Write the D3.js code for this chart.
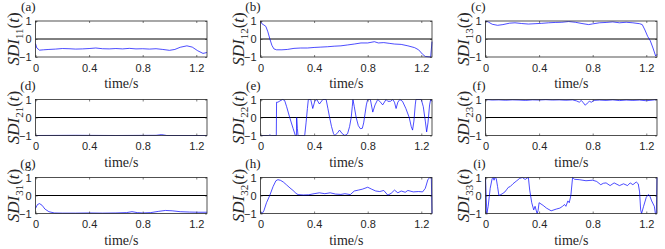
<!DOCTYPE html>
<html>
<head>
<meta charset="utf-8">
<script src="https://cdn.jsdelivr.net/npm/d3@7"></script>
<style>
  body { margin: 0; background: #fff; }
  svg { display: block; }
  .serif { font-family: "Liberation Serif", "Times New Roman", Times, serif; font-weight: 400; }
</style>
</head>
<body>
<div id="chart"></div>
<script>
// tick values and labels
const xTicks = [0, 0.4, 0.8, 1.2];
const yTicks = [-1, 0, 1];
const panelNames = ["(a)", "(b)", "(c)", "(d)", "(e)", "(f)", "(g)", "(h)", "(i)"];
const subscripts = ["11", "12", "13", "21", "22", "23", "31", "32", "33"];

// series: [time (s), SDI]
const sdi11 = [[0,-0.25],[0.01,-0.5],[0.03,-0.62],[0.06,-0.6],[0.1,-0.58],[0.15,-0.56],[0.2,-0.53],[0.25,-0.54],[0.3,-0.56],[0.35,-0.55],[0.4,-0.53],[0.45,-0.5],[0.5,-0.54],[0.55,-0.55],[0.6,-0.53],[0.65,-0.55],[0.7,-0.52],[0.75,-0.55],[0.8,-0.54],[0.85,-0.56],[0.9,-0.54],[0.95,-0.58],[1.0,-0.63],[1.04,-0.58],[1.08,-0.46],[1.13,-0.38],[1.17,-0.45],[1.21,-0.65],[1.25,-0.8],[1.28,-0.75]];
const sdi12 = [[0,1],[0.01,0.85],[0.025,0.78],[0.04,0.7],[0.055,0.4],[0.07,0],[0.085,-0.35],[0.1,-0.55],[0.12,-0.6],[0.16,-0.6],[0.2,-0.58],[0.25,-0.52],[0.3,-0.5],[0.35,-0.5],[0.4,-0.47],[0.45,-0.45],[0.5,-0.43],[0.55,-0.4],[0.6,-0.38],[0.65,-0.33],[0.7,-0.28],[0.75,-0.22],[0.8,-0.22],[0.85,-0.15],[0.88,-0.22],[0.92,-0.2],[0.96,-0.24],[1.0,-0.28],[1.05,-0.3],[1.1,-0.38],[1.15,-0.48],[1.18,-0.6],[1.21,-0.85],[1.23,-0.97],[1.27,-1],[1.28,-0.15]];
const sdi13 = [[0,1],[0.02,0.95],[0.05,0.82],[0.09,0.76],[0.13,0.8],[0.18,0.88],[0.22,0.9],[0.27,0.86],[0.32,0.83],[0.37,0.85],[0.42,0.87],[0.47,0.9],[0.52,0.92],[0.57,0.93],[0.62,0.97],[0.67,0.93],[0.72,0.86],[0.77,0.8],[0.8,0.84],[0.85,0.9],[0.9,0.92],[0.95,0.95],[1.0,0.9],[1.05,0.93],[1.1,0.9],[1.15,0.85],[1.17,0.8],[1.19,0.5],[1.21,0.15],[1.23,-0.1],[1.25,-0.5],[1.27,-0.95],[1.28,-0.85]];
const sdi21 = [[0,-1],[0.3,-0.99],[0.6,-1],[0.9,-0.99],[0.94,-0.95],[0.98,-1],[1.28,-1]];
const sdi22 = [[0,-1],[0.06,-1],[0.07,-0.97],[0.08,-1],[0.118,-1],[0.12,0.85],[0.13,0.85],[0.145,0.92],[0.165,1],[0.18,0.95],[0.195,0.6],[0.218,0],[0.243,-0.6],[0.26,-1],[0.268,-1],[0.27,0],[0.275,-0.6],[0.28,-1],[0.33,-1],[0.34,-0.3],[0.35,0.5],[0.357,1],[0.375,1],[0.39,0.5],[0.405,0.9],[0.42,1],[0.44,0.75],[0.465,1],[0.49,1],[0.503,0.5],[0.516,0],[0.53,-0.5],[0.545,-0.9],[0.555,-1],[0.575,-0.85],[0.59,-0.7],[0.61,-0.9],[0.63,-1],[0.65,-0.9],[0.665,-0.5],[0.677,0],[0.685,0.6],[0.69,1],[0.7,0.6],[0.714,0],[0.73,-0.45],[0.745,-0.62],[0.76,-0.6],[0.77,-0.3],[0.78,0.2],[0.79,0.7],[0.8,1],[0.82,1],[0.838,0.3],[0.855,0.7],[0.875,1],[0.89,0.9],[0.912,0.7],[0.937,1],[0.95,0.9],[0.97,0.9],[0.987,1],[1.0,0.85],[1.012,0.5],[1.025,0.85],[1.04,1],[1.06,0.9],[1.085,0.5],[1.11,0],[1.125,-0.5],[1.135,-0.7],[1.145,-0.2],[1.155,0.7],[1.16,1],[1.2,1],[1.215,0.6],[1.23,-0.2],[1.24,-0.8],[1.25,-0.3],[1.262,0.7],[1.27,1],[1.28,0.9]];
const sdi23 = [[0,1],[0.05,0.97],[0.1,0.98],[0.15,0.96],[0.2,0.98],[0.25,0.97],[0.3,0.95],[0.35,0.98],[0.4,0.97],[0.45,0.99],[0.5,0.97],[0.55,0.98],[0.6,0.96],[0.65,0.98],[0.68,0.92],[0.7,0.85],[0.715,0.95],[0.73,0.82],[0.745,0.68],[0.76,0.8],[0.775,0.9],[0.79,0.85],[0.81,0.95],[0.85,0.97],[0.9,0.95],[0.95,0.98],[1.0,0.94],[1.05,0.97],[1.1,0.95],[1.15,0.97],[1.2,0.93],[1.25,0.97],[1.28,1]];
const sdi31 = [[0,-0.72],[0.015,-0.5],[0.03,-0.45],[0.05,-0.55],[0.07,-0.75],[0.1,-0.9],[0.14,-0.97],[0.2,-0.98],[0.3,-0.98],[0.4,-0.97],[0.5,-0.98],[0.6,-0.97],[0.68,-0.95],[0.72,-0.9],[0.76,-0.95],[0.8,-0.97],[0.86,-0.95],[0.92,-0.88],[0.97,-0.83],[1.02,-0.85],[1.08,-0.9],[1.15,-0.92],[1.22,-0.93],[1.28,-0.93]];
const sdi32 = [[0,-0.9],[0.012,-1],[0.025,-0.85],[0.045,-0.4],[0.069,0],[0.094,0.5],[0.115,0.82],[0.13,0.88],[0.15,0.84],[0.17,0.75],[0.193,0.6],[0.22,0.42],[0.243,0.28],[0.265,0.12],[0.28,0.05],[0.32,0.03],[0.36,0.04],[0.4,0.1],[0.44,0.15],[0.48,0.1],[0.52,0.15],[0.56,0.08],[0.6,0.06],[0.63,0.1],[0.67,0.05],[0.7,0.25],[0.73,0.3],[0.76,0.35],[0.8,0.46],[0.83,0.35],[0.86,0.25],[0.89,0.22],[0.92,0.28],[0.95,0.02],[0.975,0.12],[1.0,0.3],[1.025,0.15],[1.05,0.25],[1.08,0.18],[1.1,0.28],[1.14,0.2],[1.18,0.22],[1.21,0.2],[1.23,0.4],[1.25,0.9],[1.265,1],[1.275,1],[1.28,-1]];
const sdi33 = [[0,1],[0.004,0.2],[0.01,-1],[0.02,-0.6],[0.035,0.4],[0.05,0.95],[0.057,1],[0.064,0.85],[0.07,1],[0.08,0.95],[0.09,0.5],[0.1,0],[0.115,0.05],[0.13,0.12],[0.145,0.2],[0.16,0.35],[0.17,0.45],[0.185,0.5],[0.205,0.65],[0.23,0.8],[0.255,0.95],[0.275,1],[0.29,0.92],[0.3,0.9],[0.31,0.97],[0.32,1],[0.33,0.3],[0.345,-0.4],[0.36,-0.8],[0.37,-0.6],[0.385,-1],[0.392,-0.85],[0.4,-0.4],[0.43,-0.55],[0.455,-0.7],[0.49,-0.85],[0.53,-0.75],[0.555,-0.7],[0.575,-0.6],[0.59,-0.5],[0.6,-0.6],[0.615,-0.3],[0.625,-0.4],[0.637,0],[0.65,1],[0.665,0.9],[0.7,0.88],[0.75,0.82],[0.8,0.85],[0.83,0.78],[0.86,0.6],[0.88,0.68],[0.9,0.7],[0.93,0.55],[0.96,0.7],[1.0,0.55],[1.03,0.65],[1.06,0.55],[1.08,0.7],[1.1,0.6],[1.125,0.75],[1.14,0.65],[1.15,0.2],[1.158,-0.8],[1.165,-1],[1.18,-0.6],[1.2,-0.1],[1.215,0.05],[1.225,0],[1.24,-0.3],[1.26,-0.6],[1.268,-1],[1.275,-1],[1.28,1]];

const series = [sdi11, sdi12, sdi13, sdi21, sdi22, sdi23, sdi31, sdi32, sdi33];

const width = 665, height = 249;
const colLeft = [35.5, 260.5, 485.5];
const rowTop = [21, 99.5, 177.5];
const pw = 171.5, ph = 36;
const axisColor = "#262626";

const svg = d3.select("#chart").append("svg")
  .attr("width", width)
  .attr("height", height);

series.forEach((data, i) => {
  const left = colLeft[i % 3];
  const top = rowTop[Math.floor(i / 3)];

  const x = d3.scaleLinear().domain([0, 1.28]).range([left, left + pw]);
  const y = d3.scaleLinear().domain([-1, 1]).range([top + ph, top]);

  const g = svg.append("g");

  // zero line
  g.append("line")
    .attr("x1", x(0)).attr("x2", x(1.28))
    .attr("y1", y(0)).attr("y2", y(0))
    .attr("stroke", "#000")
    .attr("stroke-width", 1);

  // the trace
  const line = d3.line().x((d) => x(d[0])).y((d) => y(d[1]));
  g.append("path")
    .datum(data)
    .attr("fill", "none")
    .attr("stroke", "#0000ff")
    .attr("stroke-width", 0.7)
    .attr("d", line);

  // axes with inward ticks
  const bottom = g.append("g")
    .attr("transform", `translate(0,${top + ph})`)
    .call(d3.axisBottom(x).tickValues(xTicks).tickSize(-2).tickPadding(7)
      .tickFormat((d) => (d === 0 ? "0" : d3.format(".1f")(d))));
  const topAx = g.append("g")
    .attr("transform", `translate(0,${top})`)
    .call(d3.axisTop(x).tickValues(xTicks).tickSize(-2).tickFormat(""));
  const leftAx = g.append("g")
    .attr("transform", `translate(${left},0)`)
    .call(d3.axisLeft(y).tickValues(yTicks).tickSize(-2).tickPadding(4)
      .tickFormat(d3.format("d")));
  const rightAx = g.append("g")
    .attr("transform", `translate(${left + pw},0)`)
    .call(d3.axisRight(y).tickValues(yTicks).tickSize(-2).tickFormat(""));

  [bottom, topAx, leftAx, rightAx].forEach((ax) => {
    ax.select(".domain").remove();
    ax.selectAll("line").attr("stroke", axisColor).attr("stroke-width", 0.6);
    ax.selectAll("text")
      .attr("fill", axisColor)
      .style("font-family", "'Liberation Sans', Arial, sans-serif")
      .style("font-size", "11px");
  });

  // box
  g.append("rect")
    .attr("x", left).attr("y", top)
    .attr("width", pw).attr("height", ph)
    .attr("fill", "none")
    .attr("stroke", axisColor)
    .attr("stroke-width", 0.8);

  // panel name, right edge on the axes' left edge
  g.append("text")
    .attr("class", "serif")
    .attr("x", left)
    .attr("y", top - 10)
    .attr("text-anchor", "end")
    .attr("fill", "#1a1a1a")
    .style("font-size", "13px")
    .text(panelNames[i]);

  // x label
  g.append("text")
    .attr("class", "serif")
    .attr("x", left + pw / 2)
    .attr("y", top + ph + 31)
    .attr("text-anchor", "middle")
    .attr("fill", axisColor)
    .style("font-size", "14px")
    .text("time/s");

  // y label SDI_ij(t)
  const yl = g.append("text")
    .attr("class", "serif")
    .attr("transform", `translate(${left - 17},${top + ph / 2}) rotate(-90)`)
    .attr("text-anchor", "middle")
    .attr("fill", axisColor)
    .style("font-size", "17px");
  yl.append("tspan").style("font-style", "italic").text("SDI");
  yl.append("tspan").attr("dy", 4).style("font-size", "11px").text(subscripts[i]);
  yl.append("tspan").attr("dy", -4).text("(");
  yl.append("tspan").style("font-style", "italic").text("t");
  yl.append("tspan").text(")");
});
</script>
</body>
</html>
